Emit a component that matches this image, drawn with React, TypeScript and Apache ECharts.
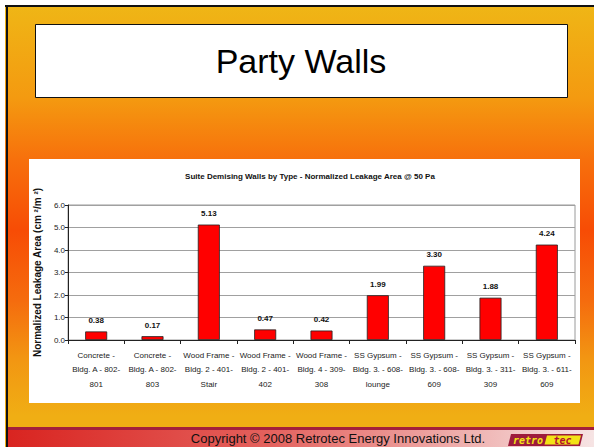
import React, { useEffect, useRef } from "react";
import * as echarts from "echarts";

const slideTitle = "Party Walls";
const chartTitle = "Suite Demising Walls by Type - Normalized Leakage Area @ 50 Pa";
const yAxisName = "Normalized Leakage Area (cm ²/m ²)";
const copyright = "Copyright © 2008 Retrotec Energy Innovations Ltd.";

const categories = [
  "Concrete -\nBldg. A - 802-\n801",
  "Concrete -\nBldg. A - 802-\n803",
  "Wood Frame -\nBldg. 2 - 401-\nStair",
  "Wood Frame -\nBldg. 2 - 401-\n402",
  "Wood Frame -\nBldg. 4 - 309-\n308",
  "SS Gypsum -\nBldg. 3. - 608-\nlounge",
  "SS Gypsum -\nBldg. 3. - 608-\n609",
  "SS Gypsum -\nBldg. 3. - 311-\n309",
  "SS Gypsum -\nBldg. 3. - 611-\n609",
];
const leakage = [0.38, 0.17, 5.13, 0.47, 0.42, 1.99, 3.3, 1.88, 4.24];

const yMin = 0;
const yMax = 6;
const yStep = 1;

const SANS = '"Liberation Sans", Arial, sans-serif';

export default function App() {
  const ref = useRef<HTMLDivElement>(null);

  useEffect(() => {
    if (!ref.current) return;
    const chart = echarts.init(ref.current, null, { renderer: "svg" });
    chart.setOption({
      animation: false,
      backgroundColor: "#ffffff",
      graphic: [
        {
          type: "rect",
          z: -5,
          shape: { x: 5, y: 5, width: 589, height: 442 },
          style: {
            fill: new echarts.graphic.LinearGradient(0, 0, 0, 1, [
              { offset: 0, color: "#EFB616" },
              { offset: 0.21, color: "#F49A10" },
              { offset: 0.35, color: "#F7700C" },
              { offset: 0.51, color: "#F74C05" },
              { offset: 0.67, color: "#F56C0E" },
              { offset: 0.8, color: "#F29612" },
              { offset: 0.93, color: "#F0AE14" },
              { offset: 1, color: "#F0AE14" },
            ]),
          },
        },
        { type: "rect", z: -4, shape: { x: 5, y: 5, width: 589, height: 2 }, style: { fill: "#111" } },
        { type: "rect", z: -4, shape: { x: 6, y: 5, width: 2, height: 442 }, style: { fill: "#111" } },
        {
          type: "rect",
          z: -4,
          shape: { x: 35.5, y: 24.5, width: 532, height: 73 },
          style: { fill: "#ffffff", stroke: "#111", lineWidth: 1 },
        },
        {
          type: "text",
          z: -3,
          x: 301,
          y: 61,
          style: {
            text: slideTitle,
            font: `34px ${SANS}`,
            fill: "#000",
            align: "center",
            verticalAlign: "middle",
          },
        },
        { type: "rect", z: -4, shape: { x: 29, y: 159, width: 551, height: 244 }, style: { fill: "#ffffff" } },
        { type: "rect", z: -4, shape: { x: 8, y: 427, width: 586, height: 3 }, style: { fill: "#A31F3B" } },
        {
          type: "rect",
          z: -4,
          shape: { x: 8, y: 430, width: 586, height: 17 },
          style: {
            fill: new echarts.graphic.LinearGradient(0, 0, 1, 0, [
              { offset: 0, color: "#D92420" },
              { offset: 0.45, color: "#E4625E" },
              { offset: 1, color: "#F6E4E4" },
            ]),
          },
        },
        {
          type: "text",
          z: -3,
          x: 338,
          y: 438.5,
          style: {
            text: copyright,
            font: `13px ${SANS}`,
            fill: "#111",
            align: "center",
            verticalAlign: "middle",
          },
        },
        {
          type: "polygon",
          z: -3,
          shape: { points: [[511, 434], [583, 434], [580, 446], [508, 446]] },
          style: { fill: "#9E1B3C" },
        },
        {
          type: "polygon",
          z: -3,
          shape: { points: [[547, 435.5], [581, 435.5], [578.5, 444.5], [544.5, 444.5]] },
          style: { fill: "#F3E316" },
        },
        {
          type: "text",
          z: -2,
          x: 528,
          y: 440.5,
          style: {
            text: "retro",
            font: `italic bold 10px "DejaVu Sans Mono", monospace`,
            fill: "#F3E316",
            align: "center",
            verticalAlign: "middle",
          },
        },
        {
          type: "text",
          z: -2,
          x: 562.5,
          y: 440.5,
          style: {
            text: "tec",
            font: `italic bold 10px "DejaVu Sans Mono", monospace`,
            fill: "#B5122E",
            align: "center",
            verticalAlign: "middle",
          },
        },
      ],
      title: {
        text: chartTitle,
        left: 305,
        top: 167,
        textAlign: "center",
        textStyle: { fontFamily: SANS, fontSize: 8, fontWeight: "bold", color: "#111" },
      },
      grid: {
        left: 68,
        right: 19,
        top: 205,
        bottom: 107,
        show: true,
        borderColor: "#9a9a9a",
        borderWidth: 1,
        backgroundColor: "transparent",
      },
      xAxis: {
        type: "category",
        data: categories,
        axisLine: { lineStyle: { color: "#222", width: 1 } },
        axisTick: { show: true, length: 4, lineStyle: { color: "#222" } },
        axisLabel: {
          interval: 0,
          margin: 8,
          lineHeight: 14.5,
          fontFamily: SANS,
          fontSize: 8,
          color: "#222",
        },
      },
      yAxis: {
        type: "value",
        min: yMin,
        max: yMax,
        interval: yStep,
        name: yAxisName,
        nameLocation: "middle",
        nameGap: 25,
        nameTextStyle: { fontFamily: SANS, fontSize: 10, fontWeight: "bold", color: "#111" },
        axisLine: { show: true, lineStyle: { color: "#222", width: 1 } },
        axisTick: { show: true, length: 3, lineStyle: { color: "#222" } },
        axisLabel: {
          margin: 3,
          fontFamily: SANS,
          fontSize: 8,
          color: "#222",
          formatter: (v: number) => v.toFixed(1),
        },
        splitLine: { show: true, lineStyle: { color: "#a0a0a0", width: 1 } },
      },
      series: [
        {
          type: "bar",
          data: leakage,
          barWidth: 22,
          itemStyle: { color: "#FF0000", borderColor: "#222", borderWidth: 0.8 },
          label: {
            show: true,
            position: "top",
            distance: 7,
            fontFamily: SANS,
            fontSize: 8,
            fontWeight: "bold",
            color: "#111",
            formatter: (p: any) => Number(p.value).toFixed(2),
          },
        },
      ],
    });
    return () => chart.dispose();
  }, []);

  return (
    <div
      ref={ref}
      style={{ position: "absolute", left: 0, top: 0, width: 594, height: 447 }}
    />
  );
}
